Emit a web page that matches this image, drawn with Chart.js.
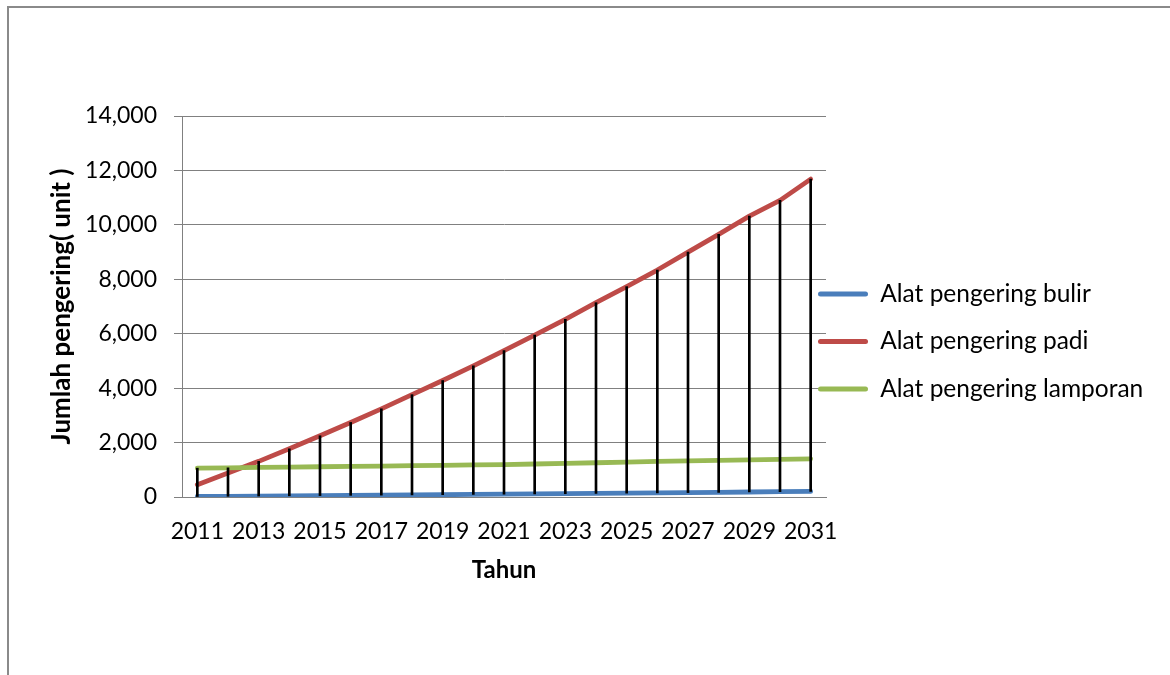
<!DOCTYPE html>
<html lang="id">
<head>
  <meta charset="UTF-8">
  <title>Jumlah pengering</title>
  <style>
    body { margin: 0; background: #fff; }
    #wrap { position: relative; width: 1170px; height: 675px; overflow: hidden; }
    #frame { position: absolute; left: 7px; top: 6px; width: 1300px; height: 800px;
             border-left: 2px solid #8a8a8a; border-top: 2px solid #8a8a8a; pointer-events: none; }
  </style>
</head>
<body>
<script src="https://cdn.jsdelivr.net/npm/chart.js"></script>
<div id="wrap">
  <canvas id="myChart" width="1170" height="675"></canvas>
  <div id="frame"></div>
</div>

<script>
  const years = ['2011','2012','2013','2014','2015','2016','2017','2018','2019','2020','2021',
                 '2022','2023','2024','2025','2026','2027','2028','2029','2030','2031'];
  const bulir = [18, 26, 35, 43, 51, 60, 68, 77, 85, 94, 102, 112, 121, 131, 141, 151, 162, 172, 183, 194, 205];
  const padi = [450, 880, 1310, 1770, 2250, 2740, 3240, 3760, 4280, 4820, 5380,
                5950, 6530, 7140, 7730, 8340, 9000, 9650, 10320, 10900, 11680];
  const lamporan = [1060, 1072, 1085, 1098, 1111, 1125, 1138, 1150, 1163, 1177, 1190,
                    1212, 1235, 1258, 1282, 1306, 1325, 1344, 1362, 1381, 1400];
  const seriesNames = ['Alat pengering bulir', 'Alat pengering padi', 'Alat pengering lamporan'];

  // high-low lines: from the lowest to the highest value in each year
  const highLow = years.map((y, i) => {
    const v = [bulir[i], padi[i], lamporan[i]];
    return [Math.min(...v), Math.max(...v)];
  });

  const FONT = 'Lato';
  Chart.defaults.color = '#000';
  Chart.defaults.font.family = FONT;

  function lineSet(label, data, color, order) {
    return {
      type: 'line', label: label, data: data, order: order,
      borderColor: color, backgroundColor: color, borderWidth: 4.8,
      borderCapStyle: 'round', borderJoinStyle: 'round',
      pointRadius: 0, tension: 0
    };
  }

  // pull the legend's left edge back so its lines start just inside the plot edge
  const legendPlace = {
    id: 'legendPlace',
    afterLayout(chart) {
      const lg = chart.legend;
      const dx = (chart.chartArea.right - 8 - lg.options.labels.padding) - lg.left;
      lg.left += dx;
      lg.width = lg.right - lg.left;
      const dy = -54;
      lg.top += dy; lg.bottom += dy;
    }
  };

  const config = {
    type: 'line',
    data: {
      labels: years,
      datasets: [
        lineSet(seriesNames[0], bulir, '#4a7ebb', 3),
        lineSet(seriesNames[1], padi, '#be4b48', 2),
        lineSet(seriesNames[2], lamporan, '#98b954', 1),
        {
          type: 'bar', label: 'high-low', data: highLow, order: 0,
          backgroundColor: '#000', barThickness: 2
        }
      ]
    },
    options: {
      responsive: false,
      animation: false,
      layout: { padding: { left: 0, top: 116, right: 0, bottom: 0 } },
      plugins: {
        tooltip: { enabled: false },
        legend: {
          position: 'right',
          maxWidth: 344,
          labels: {
            filter: item => item.datasetIndex < 3,
            sort: (a, b) => a.datasetIndex - b.datasetIndex,
            generateLabels: chart => Chart.defaults.plugins.legend.labels.generateLabels(chart)
              .map(l => Object.assign(l, { lineWidth: 0 })),
            boxWidth: 50, boxHeight: 5,
            useBorderRadius: true, borderRadius: 2.5,
            padding: 23,
            font: { family: FONT, size: 24.5 }
          }
        }
      },
      scales: {
        x: {
          type: 'category',
          offset: true,
          grid: { display: false, drawTicks: false, offset: true },
          border: { display: true, color: '#808080', width: 1 },
          ticks: {
            autoSkip: false, maxRotation: 0, padding: 21,
            font: { size: 23 },
            callback: function (val, i) { return i % 2 === 0 ? this.getLabelForValue(val) : ''; }
          },
          title: {
            display: true, text: 'Tahun',
            font: { size: 24, weight: 'bold' },
            padding: { top: 0, bottom: 90 }
          },
          afterFit: s => { s.height = 178; }
        },
        y: {
          min: 0, max: 14000,
          grid: { color: '#808080', lineWidth: 1, tickLength: 8, drawTicks: true },
          border: { color: '#808080', width: 1 },
          ticks: {
            stepSize: 2000, padding: 17,
            font: { size: 23 },
            callback: v => v.toLocaleString('en-US')
          },
          title: {
            display: true, text: 'Jumlah pengering( unit )',
            font: { size: 26, weight: 'bold' },
            padding: { top: 46, bottom: 0 }
          },
          afterFit: s => { s.width = 182; }
        }
      }
    },
    plugins: [legendPlace]
  };

  new Chart(document.getElementById('myChart'), config);
</script>
</body>
</html>
